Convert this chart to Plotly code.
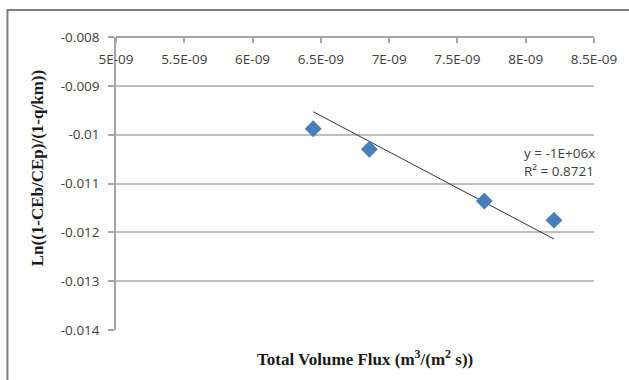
import numpy as np
import plotly.graph_objects as go

# Measured points: total volume flux vs log ratio
flux = [6.444e-9, 6.855e-9, 7.697e-9, 8.207e-9]
log_ratio = [-0.00988, -0.01030, -0.01136, -0.01175]

x_ticks = [5e-9, 5.5e-9, 6e-9, 6.5e-9, 7e-9, 7.5e-9, 8e-9, 8.5e-9]
x_tick_text = ["5E-09", "5.5E-09", "6E-09", "6.5E-09", "7E-09", "7.5E-09", "8E-09", "8.5E-09"]
y_ticks = [-0.008, -0.009, -0.010, -0.011, -0.012, -0.013, -0.014]
y_tick_text = ["-0.008", "-0.009", "-0.01", "-0.011", "-0.012", "-0.013", "-0.014"]

eq_label = "y = -1E+06x"
r2_label = "R² = 0.8721"

# Linear trendline through the origin (least squares)
xa = np.array(flux)
ya = np.array(log_ratio)
slope = float((xa * ya).sum() / (xa * xa).sum())
trend_x = [xa.min(), xa.max()]
trend_y = [slope * v for v in trend_x]

W, H = 629, 380
L, R, T, B = 116, 33, 37, 50
pw, ph = W - L - R, H - T - B


def px(x):
    return (x - L) / pw


def py(y):
    return (H - B - y) / ph


tick_font = dict(family="Open Sans, Liberation Sans, sans-serif", size=13.5, color="#404040")
title_font = dict(family="Liberation Serif, Times New Roman, serif", size=17, color="#1a1a1a")

fig = go.Figure()
fig.add_trace(go.Scatter(
    x=trend_x, y=trend_y, mode="lines",
    line=dict(color="#333333", width=1), showlegend=False, hoverinfo="skip",
))
fig.add_trace(go.Scatter(
    x=flux, y=log_ratio, mode="markers",
    marker=dict(symbol="diamond", size=13, color="#4A7EBB", line=dict(width=0)),
    showlegend=False,
))

fig.update_layout(
    width=W, height=H,
    margin=dict(l=L, r=R, t=T, b=B),
    paper_bgcolor="white", plot_bgcolor="white",
    xaxis=dict(
        range=[5e-9, 8.5e-9], tickvals=x_ticks, ticktext=x_tick_text,
        anchor="free", position=1, side="bottom",
        showgrid=False, zeroline=False,
        showline=True, linecolor="#a6a6a6", linewidth=1.5,
        ticks="outside", ticklen=5, tickcolor="#a6a6a6", tickwidth=1.5,
        tickfont=tick_font, ticklabelstandoff=5,
    ),
    yaxis=dict(
        range=[-0.014, -0.008], tickvals=y_ticks, ticktext=y_tick_text,
        showgrid=True, gridcolor="#bfbfbf", gridwidth=1.5,
        zeroline=False, showline=True, linecolor="#a6a6a6", linewidth=1.5,
        ticks="outside", ticklen=6, tickcolor="#a6a6a6", tickwidth=1.5,
        tickfont=tick_font, ticklabelstandoff=6,
    ),
    annotations=[
        dict(text="<b>Ln((1-CEb/CEp)/(1-q/km))</b>", xref="paper", yref="paper",
             x=px(37), y=py(168), textangle=-90, showarrow=False, font=title_font,
             xanchor="center", yanchor="middle"),
        dict(text="<b>Total Volume Flux (m<sup>3</sup>/(m<sup>2</sup> s))</b>",
             xref="paper", yref="paper", x=px(366), y=py(358), showarrow=False,
             font=title_font, xanchor="center", yanchor="middle"),
        dict(text=eq_label + "<br>" + r2_label, xref="paper", yref="paper",
             x=px(524), y=py(162), showarrow=False, align="left",
             xanchor="left", yanchor="middle",
             font=dict(family="Open Sans, Liberation Sans, sans-serif", size=13.5, color="#404040")),
    ],
    shapes=[
        dict(type="rect", xref="paper", yref="paper",
             x0=px(7), y0=py(395), x1=px(645), y1=py(10),
             line=dict(color="#7f7f7f", width=2), layer="below"),
    ],
)

fig.write_html("out.html")
